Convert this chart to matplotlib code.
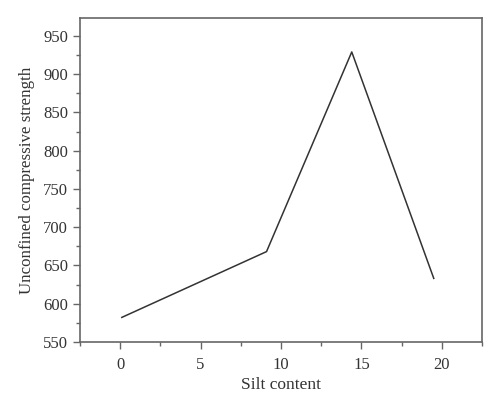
import numpy as np
import matplotlib.pyplot as plt
from matplotlib.ticker import MultipleLocator

# data
silt = [0.1, 9.1, 14.4, 19.5]
strength = [582, 668, 929, 633]

plt.rcParams['font.family'] = ['Liberation Serif', 'DejaVu Serif']

fig = plt.figure(figsize=(5, 4.07), dpi=100)
ax = fig.add_axes([0.16, 0.16, 0.804, 0.796])

ax.plot(silt, strength, color='#333333', linewidth=1.1)

ax.set_xlim(-2.5, 22.5)
ax.set_ylim(550, 973.5)
ax.xaxis.set_major_locator(MultipleLocator(5))
ax.xaxis.set_minor_locator(MultipleLocator(2.5))
ax.yaxis.set_major_locator(MultipleLocator(50))
ax.yaxis.set_minor_locator(MultipleLocator(25))

for s in ax.spines.values():
    s.set_color('#666666')
    s.set_linewidth(1.2)

ax.tick_params(which='both', direction='out', top=False, right=False,
               color='#666666', width=1.0, labelsize=12, labelcolor='#333333')
ax.tick_params(which='major', length=5)
ax.tick_params(which='minor', length=3)
ax.tick_params(axis='x', which='major', pad=6)

ax.set_xlabel('Silt content', fontsize=12.5, color='#333333', labelpad=3)
ax.set_ylabel('Unconfined compressive strength', fontsize=12.2, color='#333333', labelpad=6)

plt.savefig('out.png', dpi=100)
